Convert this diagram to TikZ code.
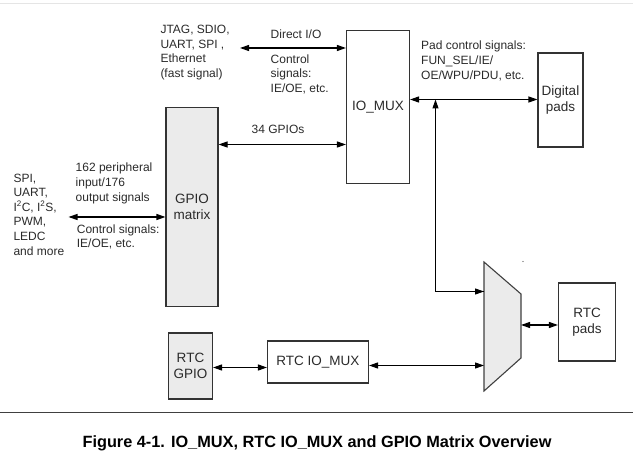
\documentclass[tikz,border=0pt]{standalone}
\usepackage{fontspec}
\setmainfont{Liberation Sans}
\usetikzlibrary{arrows.meta}
\definecolor{boxgray}{HTML}{EBEBEB}
\definecolor{txt}{HTML}{2A2A2A}
\tikzset{
  blk/.style={draw=black!80, line width=1.1pt, inner sep=0pt, text=txt, font=\fontsize{13.5}{16.5}\selectfont, align=center},
  gblk/.style={blk, fill=boxgray},
  lbl/.style={inner sep=0pt, anchor=north west, align=left, text=txt, font=\fontsize{12}{14.6}\selectfont},
  conn/.style={line width=1.1pt, black},
  bi/.style={conn, {Triangle[length=9pt,width=6pt]}-{Triangle[length=9pt,width=6pt]}},
  uni/.style={conn, -{Triangle[length=9pt,width=6pt]}},
}
\begin{document}
\begin{tikzpicture}[x=1pt,y=-1pt]
\useasboundingbox (0,0) rectangle (633,454);
\draw[black!10, line width=1pt] (0,3.5) -- (633,3.5);
% boxes
\node[blk, minimum width=63pt, minimum height=153pt] (iomux) at (378,107) {IO\_MUX};
\node[gblk, minimum width=52pt, minimum height=199pt] (gpio) at (192,207) {GPIO\\matrix};
\node[blk, minimum width=45pt, minimum height=94pt] (dpads) at (560.5,100) {Digital\\pads};
\node[blk, minimum width=57pt, minimum height=78pt] (rpads) at (587,322) {RTC\\pads};
\node[gblk, minimum width=44pt, minimum height=66pt] (rgpio) at (190.5,366) {RTC\\GPIO};
\node[blk, minimum width=101pt, minimum height=42pt] (riomux) at (318,362) {RTC IO\_MUX};
% mux trapezoid
\coordinate (mtl) at (484,262);
\coordinate (mbl) at (484,391);
\coordinate (mtr) at (521,294);
\coordinate (mbr) at (521,358);
\draw[fill=boxgray, draw=black!75, line width=1.1pt] (mtl) -- (mtr) -- (mbr) -- (mbl) -- cycle;
\fill[black!70] (523,261.5) circle (0.6pt);
% coordinates
\coordinate (jt) at (240,48);
\coordinate (pl) at (68.5,217);
\coordinate (jn) at (435.5,99.5);
\coordinate (mux1) at (484,291.5);
\coordinate (mux2) at (484,365.5);
\coordinate (mux3) at (521,325);
% connectors
\draw[bi] (jt) -- (jt -| iomux.west);
\draw[bi] (gpio.east |- 0,144.5) -- (iomux.west |- 0,144.5);
\draw[bi] (pl) -- (pl -| gpio.west);
\draw[bi] (iomux.east |- jn) -- (dpads.west |- jn);
\draw[uni] (mux1) -| (jn);
\draw[uni] (jn |- mux1) -- (mux1);
\draw[bi] (mux3) -- (mux3 -| rpads.west);
\draw[bi] (rgpio.east |- 0,367.5) -- (riomux.west |- 0,367.5);
\draw[bi] (riomux.east |- mux2) -- (mux2);
% labels
\node[lbl] (l1) at (160.3,25) {JTAG, SDIO,\\UART, SPI ,\\Ethernet\\(fast signal)};
\node[lbl] (l2) at (270.5,30) {Direct I/O};
\node[lbl] (l3) at (270.5,54.5) {Control\\signals:\\IE/OE, etc.};
\node[lbl] (l4) at (421,41) {Pad control signals:\\FUN\_SEL/IE/\\OE/WPU/PDU, etc.};
\node[lbl] (l5) at (251.5,124.5) {34 GPIOs};
\node[lbl] (l6) at (75.5,163) {162 peripheral\\input/176\\output signals};
\node[lbl] (l7) at (76.7,224.5) {Control signals:\\IE/OE, etc.};
\node[lbl] (l8) at (13.3,173.5) {SPI,\\UART,\\I\textsuperscript{2}C, I\textsuperscript{2}S,\\PWM,\\LEDC\\and more};
% separator and caption
\draw[black!75, line width=1pt] (0,412.5) -- (633,412.5);
\node[inner sep=0pt, font=\fontsize{16.3}{18}\selectfont\bfseries, text=black] (cap) at (317,443.5) {Figure 4-1. IO\_MUX, RTC IO\_MUX and GPIO Matrix Overview};
\end{tikzpicture}
\end{document}
